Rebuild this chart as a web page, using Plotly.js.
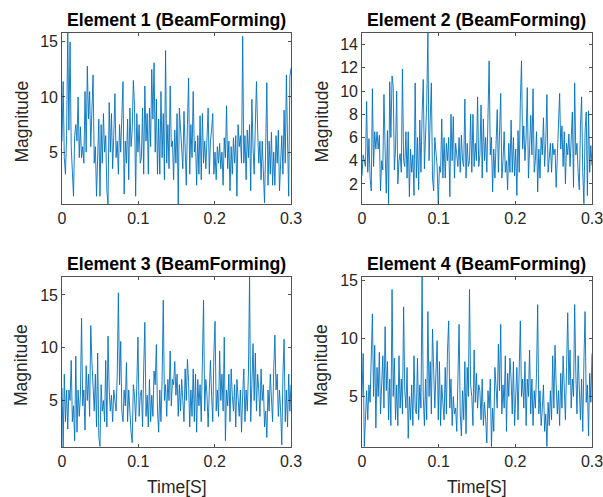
<!DOCTYPE html>
<html><head><meta charset="utf-8">
<script src="https://cdn.plot.ly/plotly-3.0.1.min.js"></script>
<style>html,body{margin:0;padding:0;background:#fff}#chart{width:603px;height:497px}</style>
</head><body><div id="chart"></div>
<script>
// Magnitude samples, evenly spaced over 0 .. 0.3 s
const element1 = [
6,11.4,4.5,3,6.5,15.8,7,15,5.5,2.5,
1,6.5,7.5,6,10,4.5,7.3,4.5,5.5,4,
10.5,5,12.8,8,10.5,5.5,8.5,12,4,5.5,
1,5,8,1,7.5,4,8.5,5,6.5,1.5,
0.3,9.5,5,8.5,3.5,6.5,10.3,4.5,6,3,
7.5,5,9,11.4,1.2,6,4,8,2.5,9,
5.5,7,11.5,9.2,1,8.5,5,7.5,4,4.5,
9,3,11,6,8.5,3,9,5.5,12.5,8,
13.1,5,9.8,3,8,3,10.5,4.5,8.5,2.5,
14.2,4,7.5,3.5,11,5.5,6,2.5,7,4,
8.5,0.3,9,7,6,3.5,8.7,6,2,7.5,
11.7,3,7.5,4.5,10.5,5,6,2,6.5,3,
8.3,2.5,8.5,4,6,3.5,6.5,9,3,6,
7,8.5,3,5,2.5,5.5,4,5.8,3.5,5,
2,6.3,4.5,9.2,3.5,6,1.5,5.5,3,6.3,
4,6.5,1,7.5,5.5,6.5,4,15.5,4,6.5,
2.5,7,4.5,7.5,1.5,9.8,5.5,3,7.5,11.4,
7,4,6,2.5,6,3,0.4,5.5,11.3,2,
6,3,6.8,2,5,2,6.5,4,7,1.5,
5,6.5,3,8.8,4,12,6,1,11.8,12.6];
const element2 = [
2.7,4.5,4,3.5,9.1,3,5.9,2.5,1.4,10.2,
3.5,6.5,5,6.5,5,6.2,1.4,4,3.2,9.7,
5,1.2,6.6,0.3,10.8,6,11.3,10.4,3.2,5,
10,2,4,4.6,3,11.9,4,3.5,6.5,2.5,
6.5,0.9,5,3,4.5,1,10.7,2.5,6,1.5,
7.5,3,8,11,3.3,6.5,9,15,4,7.5,
10.7,2.5,1.4,6,5,3.5,0.3,3.5,3,7.6,
2.5,6,2.5,5.5,4,6,0.9,8,4,7.8,
2.5,5.5,4.5,3.5,6,3,6.2,4,3.5,9.3,
2.5,5.5,3.5,4,8,3,8,3.5,5.5,4,
9.5,3.5,4.5,8.8,2.5,7.6,4,6,3,9.8,
12.6,4.5,6,1.3,5,2.5,6,8.4,3,6.5,
9.8,2.5,4,6.5,3,4,1.5,5.5,3,7.5,
3,6,2.7,5,1,6.6,3,9,12.6,5,
7,4,6,10.3,2.5,5,7.9,4.5,10.2,3,
4,6.5,1.3,5,2.5,6,4.5,7.7,3.5,5.5,
9.7,3,4.5,5.5,3,5.5,4.5,5,1.7,4.6,
8,9.8,5,7,3.5,6.5,2,5.5,4.5,6.3,
3.5,6,8.2,1.7,10.7,4.5,5.5,3,1.5,7,
9.5,3,0.3,6.5,8.2,1,8.3,3,5.3,3.6];
const element3 = [
6.2,0.6,7.5,3,6,2.3,6,5,8.8,3,
4.5,1.2,9.2,2,6,3.5,5.5,12.8,4.5,6,
2.2,8.3,5,7.5,3.5,12.1,8.7,6,4,7.5,
2.5,9.5,1.5,0.66,6.5,4,5,3,8.8,2.5,
11.1,6,4,5.5,3,6,5,4,7.5,15.2,
6.5,10.6,4,3,6,4.5,8.6,3,6,3.5,
2,1,6.5,5.5,3,6.5,11,3.5,5.5,6,
2.5,8,12.4,3.5,5.5,2.5,7,3,5.5,3.5,
7.8,6.5,10.3,4,2,6,3,7,14.5,5,
6.5,3.5,7,5,9.7,4.5,7,6.5,8.7,5.5,
7.5,3.5,6.5,4,7,5,3,8,5,8.9,
6.8,2.5,6,3.5,8,3,7.5,2,7,4.5,
6.5,3,9.2,14.5,4,7,5.5,2.5,6,8.8,
5.5,3,9.5,12.5,4,6,3.5,9.7,5,7.5,
4,11,1.2,6,4.5,7.5,3,8,5.5,4,
6.5,2.5,7,5,3.5,6,2,5.5,8,3,
6,4,7.5,16.7,3,6.5,10.4,5,9.5,4,
7.5,6,3.5,8,5,6.5,2.5,4,1.5,6,
4,7.5,5,3,8,11.2,6,7.5,3.5,6,
4,0.8,7.5,10.8,3,6,2.5,7.5,4,6.5];
const element4 = [
5,8.7,0.7,4,5.5,3,6,4.5,8,12.1,
5,9.4,2.3,7.5,5,8.8,3.5,6,8.5,4,
11,5.5,8,3,6.5,2.5,14.2,5,8.3,3,
6,2.5,8.5,4,6.5,3.5,12.7,5.5,4,7.5,
1.4,5,3,6,2.5,8.5,4,3.5,8.3,3,
6,4,15.3,5,2.5,6.5,3,12.3,5,8,
3.5,10.8,6,4,7,9.8,3,8,2.5,6,
4.5,3,7.5,3.5,9,11.5,4,6.5,2.5,5,
3.5,4,2,6,11.2,3.5,1.6,5.5,3,8,
1.8,7.5,5,14.2,6,5,2.5,9,4.5,7,
4,6,5.5,3,6.5,2.5,4.5,3,1,5.5,
4,6.5,0.7,4,2,7.5,5,4,9.5,5.5,
11.2,3.5,6,4,8.5,2,7,5,8.3,6.5,
3.5,8,2.5,6,7.5,3,9,11.5,5,6.5,
4,8,2.5,6.5,5,9,3.5,6.5,2.5,5.5,
4,7,12.9,3.5,5.5,2.5,4,6,2,3.5,
0.7,4.5,2.5,5.5,3,8.5,4,9.4,6,3.5,
5.5,2.5,7,4,8.5,5,3,7.5,12.2,6,
9,4,6.5,5,12.9,7,3.5,8.5,5.5,3,
6.5,2,8,12.3,4.5,6,1.6,7,4.5,8.7];

const titles = ["Element 1 (BeamForming)","Element 2 (BeamForming)","Element 3 (BeamForming)","Element 4 (BeamForming)"];
const xTicks = [0, 0.1, 0.2, 0.3];
const xTickText = ["0","0.1","0.2","0.3"];
const yTicks1 = [5, 10, 15];
const yTicks2 = [2, 4, 6, 8, 10, 12, 14];
const yTicks3 = [5, 10, 15];
const yTicks4 = [5, 10, 15];
const yRanges = [[0.3, 15.8], [0.27, 15.0], [0.6, 16.7], [0.66, 15.27]];
const tEnd = 0.3;

function timeAxis(n){ const t=[]; for(let i=0;i<n;i++) t.push(i*tEnd/(n-1)); return t; }

const series = [element1, element2, element3, element4];
const traces = series.map((v,k)=>({
  x: timeAxis(v.length), y: v, type:'scatter', mode:'lines',
  line:{color:'#0072BD', width:0.9},
  xaxis: k===0?'x':'x'+(k+1), yaxis: k===0?'y':'y'+(k+1),
  hoverinfo:'skip', showlegend:false
}));

const W=603, H=497;
const boxes = [ // [left, right, top, bottom] in px
  [62,291,33,204],[362,592,33,204],[62,291,277,447],[362,592,277,447]
];
const yTickSets = [yTicks1, yTicks2, yTicks3, yTicks4];
const fam = '"Liberation Sans", Arial, sans-serif';
const font = {family:fam, size:16, color:'#262626'};
const layout = {
  width:W, height:H, margin:{l:0,r:0,t:0,b:0},
  paper_bgcolor:'#fff', plot_bgcolor:'#fff', font:font, showlegend:false,
  annotations:[]
};
boxes.forEach((b,k)=>{
  const xs = k===0?'xaxis':'xaxis'+(k+1);
  const ys = k===0?'yaxis':'yaxis'+(k+1);
  const common = {showgrid:false, zeroline:false, showline:true, mirror:'ticks', linecolor:'#262626', linewidth:0.8,
    ticks:'inside', ticklen:3, tickcolor:'#262626', tickwidth:0.8, tickfont:font, fixedrange:true,
    ticklabeloverflow:'allow'};
  layout[xs] = Object.assign({}, common, {domain:[b[0]/W, b[1]/W], range:[0,tEnd], tickvals:xTicks, ticktext:xTickText,
    anchor: k===0?'y':'y'+(k+1)});
  layout[ys] = Object.assign({}, common, {domain:[1-b[3]/H, 1-b[2]/H], range:yRanges[k], tickvals:yTickSets[k],
    anchor: k===0?'x':'x'+(k+1)});
  const cx = (b[0]+b[1])/2;
  layout.annotations.push({text:'<b>'+titles[k]+'</b>', xref:'paper', yref:'paper', x:cx/W, y:1-(b[2]-13)/H,
    xanchor:'center', yanchor:'middle', showarrow:false, font:{family:fam, size:17.7, color:'#000'}});
  layout.annotations.push({text:'Magnitude', xref:'paper', yref:'paper', x:(b[0]-41)/W, y:1-((b[2]+b[3])/2+3)/H,
    xanchor:'center', yanchor:'middle', textangle:-90, showarrow:false, font:{family:fam, size:17.5, color:'#262626'}});
  if(k>=2){
    layout.annotations.push({text:'Time[S]', xref:'paper', yref:'paper', x:cx/W, y:1-(b[3]+40)/H,
      xanchor:'center', yanchor:'middle', showarrow:false, font:{family:fam, size:17.5, color:'#262626'}});
  }
});
Plotly.newPlot('chart', traces, layout, {staticPlot:true, displayModeBar:false});
</script></body></html>
